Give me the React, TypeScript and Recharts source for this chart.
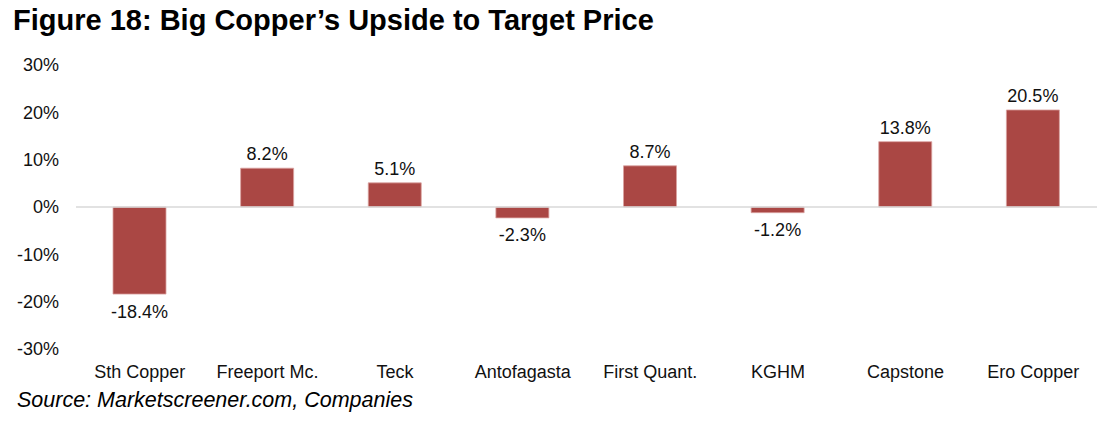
import { Bar, BarChart, LabelList, ReferenceLine, XAxis, YAxis } from "recharts"

// values (percent upside)
const companies = ["Sth Copper", "Freeport Mc.", "Teck", "Antofagasta", "First Quant.", "KGHM", "Capstone", "Ero Copper"]
const upside = [-18.4, 8.2, 5.1, -2.3, 8.7, -1.2, 13.8, 20.5]
const yTicks = [-30, -20, -10, 0, 10, 20, 30]

const data = companies.map((name, i) => ({ name, upside: upside[i] }))

const FONT = "'Liberation Sans', Arial, sans-serif"

function BarValueLabel(props: any) {
  const { x, y, width, height, value } = props
  const top = Math.min(y, y + height)
  const bottom = Math.max(y, y + height)
  const cx = x + width / 2
  const text = `${value.toFixed(1)}%`
  if (value >= 0) {
    return (
      <text x={cx} y={top - 8} textAnchor="middle" fontSize={18} fill="#111" fontFamily={FONT}>
        {text}
      </text>
    )
  }
  return (
    <text x={cx} y={bottom + 10} dy="0.75em" textAnchor="middle" fontSize={18} fill="#111" fontFamily={FONT}>
      {text}
    </text>
  )
}

export default function App() {
  return (
    <div style={{ position: "absolute", left: 0, top: 0, width: 1111, height: 423, background: "#fff", fontFamily: FONT }}>
      <div
        style={{
          position: "absolute",
          left: 13,
          top: 4,
          fontSize: 29,
          fontWeight: "bold",
          color: "#000",
          whiteSpace: "nowrap",
        }}
      >
        Figure 18: Big Copper’s Upside to Target Price
      </div>
      <div style={{ position: "absolute", left: 0, top: 0 }}>
        <BarChart width={1111} height={423} data={data} margin={{ top: 65, right: 14, bottom: 44, left: 0 }}>
          <YAxis
            width={76}
            domain={[-30, 30]}
            ticks={yTicks}
            tickFormatter={(v) => `${v}%`}
            axisLine={false}
            tickLine={false}
            tickSize={0}
            tickMargin={17}
            tick={{ fontSize: 18, fill: "#111", fontFamily: FONT }}
          />
          <XAxis
            dataKey="name"
            height={30}
            axisLine={false}
            tickLine={false}
            tickSize={0}
            tickMargin={16}
            interval={0}
            tick={{ fontSize: 18, fill: "#111", fontFamily: FONT }}
          />
          <ReferenceLine y={0} stroke="#d9d9d9" strokeWidth={1.5} />
          <Bar dataKey="upside" fill="#AA4744" stroke="#dba3a1" strokeWidth={0.8} barSize={53} isAnimationActive={false}>
            <LabelList dataKey="upside" content={BarValueLabel} />
          </Bar>
        </BarChart>
      </div>
      <div
        style={{
          position: "absolute",
          left: 17,
          top: 388,
          fontSize: 21.5,
          fontStyle: "italic",
          color: "#000",
          whiteSpace: "nowrap",
        }}
      >
        Source: Marketscreener.com, Companies
      </div>
    </div>
  )
}
